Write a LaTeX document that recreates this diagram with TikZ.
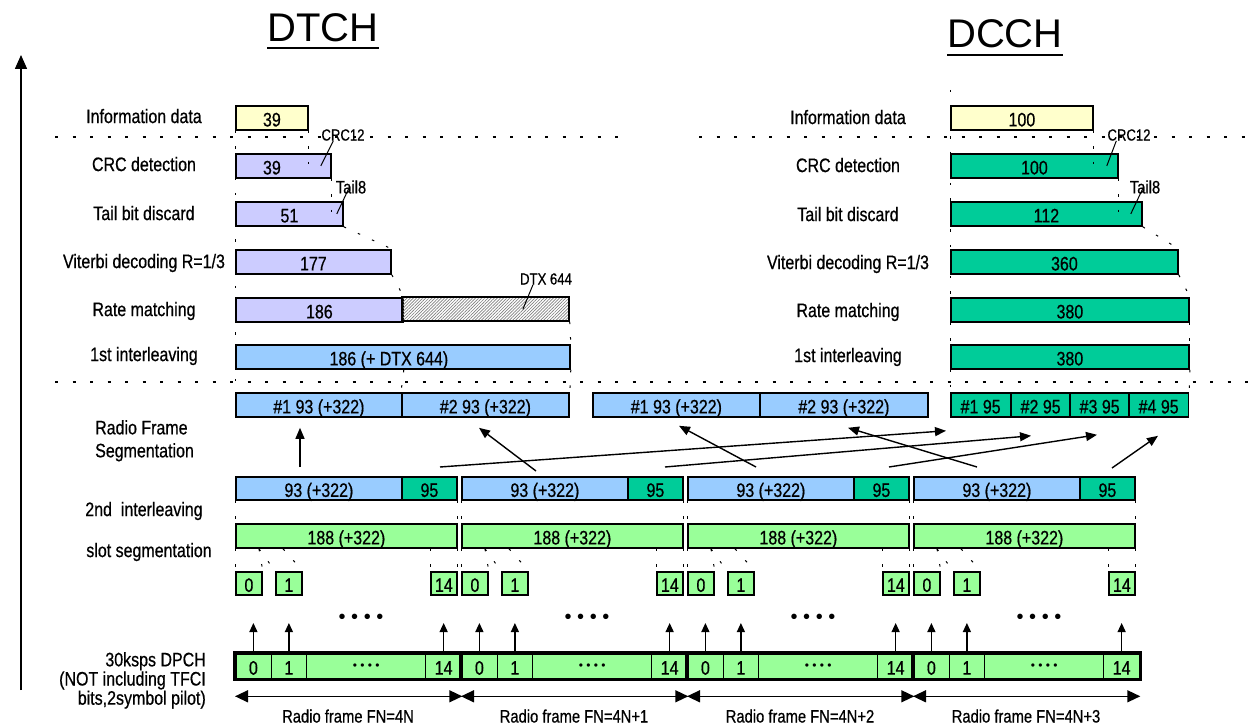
\documentclass[tikz,border=0pt]{standalone}
\usepackage{fontspec}
\newfontfamily\narrowfont{Liberation Sans}[FakeStretch=0.82,FakeBold=0.6]
\newfontfamily\plainfont{Liberation Sans}
\usetikzlibrary{arrows.meta,patterns.meta}

\definecolor{infoyellow}{HTML}{FFFFCC}
\definecolor{dtchlilac}{HTML}{CCCCFF}
\definecolor{segblue}{HTML}{99CCFF}
\definecolor{dcchgreen}{HTML}{00CC99}
\definecolor{slotgreen}{HTML}{99FF99}

\begin{document}
\begin{tikzpicture}[x=1pt,y=-1pt,
		every node/.style={font=\narrowfont\fontsize{19.5}{23}\selectfont},
		box/.style={draw=black, line width=1.8pt, anchor=north west, inner sep=0pt, minimum height=24, text height=17pt, text depth=0pt},
		steplabel/.style={text depth=0pt},
		blocklabel/.style={inner sep=0pt, text depth=0pt},
		smalltag/.style={inner sep=0pt, font=\narrowfont\fontsize{16}{16}\selectfont},
		titletext/.style={inner sep=0pt, anchor=base, font=\plainfont\fontsize{40}{40}\selectfont},
		guide/.style={line width=1pt, dash pattern=on 2.5pt off 13pt},
		sepline/.style={line width=1.6pt, dash pattern=on 3pt off 14.5pt},
		uparrow/.style={line width=1.2pt, -{Triangle[length=9pt,width=8pt]}},
		maparrow/.style={line width=1.4pt, -{Triangle[length=11pt,width=9pt]}},
		framearrow/.style={line width=1.4pt, {Triangle[length=13pt,width=12pt]}-{Triangle[length=13pt,width=12pt]}},
	]
	\useasboundingbox (0,0) rectangle (1250,727);

	%Titles
	\node[titletext] (tdt) at (323,42) {DTCH};
	\node[titletext] (tdc) at (1005,48) {DCCH};
	\draw[line width=2.2pt] ([yshift=-6pt]tdt.base west) -- ([yshift=-6pt]tdt.base east);
	\draw[line width=2.2pt] ([yshift=-7pt]tdc.base west) -- ([yshift=-7pt]tdc.base east);

	%Axis and separators
	\coordinate (axisBot) at (21,690);
	\coordinate (axisTop) at (21,55);
	\draw[line width=1.6pt, -{Triangle[length=14pt,width=12pt]}] (axisBot) -- (axisTop);
	\coordinate (sepAl) at (55,137);
	\coordinate (sepAm) at (628,137);
	\coordinate (sepAn) at (699,137);
	\coordinate (sepAr) at (1250,137);
	\coordinate (sepBl) at (55,382);
	\coordinate (sepBr) at (1250,382);
	\draw[sepline] (sepAl) -- (sepAm);
	\draw[sepline] (sepAn) -- (sepAr);
	\draw[sepline] (sepBl) -- (sepBr);

	%Step labels
	\foreach \y/\txt in {116/Information data, 164/CRC detection, 213/Tail bit discard, 261/{Viterbi decoding R=1/3}, 309/Rate matching, 354/1st interleaving}{
		\node[steplabel] at (144,\y) {\txt};
		\node[steplabel] at (848,\y+1) {\txt};
	}
	\node[blocklabel, anchor=north west, align=left] (lrfs) at (95,420) {Radio Frame\\Segmentation};
	\node[steplabel] (lilv) at (144,509) {2nd \ interleaving};
	\node[steplabel] (lslot) at (149,550) {slot segmentation};
	\node[blocklabel, anchor=north east, align=right, font=\narrowfont\fontsize{19.5}{17.5}\selectfont] (ldpch) at (206,652) {30ksps DPCH\\(NOT including TFCI\\bits,2symbol pilot)};

	%DTCH nodes
	\node[box, fill=infoyellow, minimum width=72] (tInfo) at (235,105) {39};
	\node[box, fill=dtchlilac, minimum width=95] (tCrc) at (235,153) {39\hspace*{23pt}};
	\node[box, fill=dtchlilac, minimum width=107] (tTail) at (235,201) {51};
	\node[box, fill=dtchlilac, minimum width=155] (tVit) at (235,249) {177};
	\node[box, fill=dtchlilac, minimum width=167] (tRate) at (235,297) {186};
	\node[box, fill=white, pattern={Lines[angle=45,distance=2.2pt,line width=0.7pt]}, pattern color=gray, minimum width=167] (tDtx) at (402,297) {};
	\node[box, fill=segblue, minimum width=334] (tInt) at (235,344) {186 (+ DTX 644)\hspace*{28pt}};

	%DCCH nodes
	\node[box, fill=infoyellow, minimum width=142] (cInfo) at (950,105) {100};
	\node[box, fill=dcchgreen, minimum width=167] (cCrc) at (950,153) {100};
	\node[box, fill=dcchgreen, minimum width=191] (cTail) at (950,201) {112};
	\node[box, fill=dcchgreen, minimum width=227] (cVit) at (950,249) {360};
	\node[box, fill=dcchgreen, minimum width=238] (cRate) at (950,297) {380};
	\node[box, fill=dcchgreen, minimum width=238] (cInt) at (950,344) {380};

	%Tags
	\node[smalltag] (tCrcTag) at (343,135) {CRC12};
	\node[smalltag, font=\narrowfont\fontsize{18}{18}\selectfont] (tTailTag) at (351,187) {Tail8};
	\node[smalltag] (tDtxTag) at (546,279) {DTX 644};
	\node[smalltag] (cCrcTag) at (1129,135) {CRC12};
	\node[smalltag, font=\narrowfont\fontsize{18}{18}\selectfont] (cTailTag) at (1145,187) {Tail8};
	\draw[line width=1pt] ([xshift=-11pt]tCrc.east) -- ([xshift=12pt]tCrcTag.south west);
	\draw[line width=1pt] ([xshift=-7pt]tTail.east) -- ([shift={(13,-5)}]tTailTag.south west);
	\draw[line width=1pt] ([xshift=37pt]tDtx.center) -- ([xshift=13pt]tDtxTag.south west);
	\draw[line width=1pt] ([xshift=-12pt]cCrc.east) -- ([xshift=9pt]cCrcTag.south west);
	\draw[line width=1pt] ([xshift=-12pt]cTail.east) -- ([shift={(13,-5)}]cTailTag.south west);

	%Radio frame segmentation
	\node[box, fill=segblue] (rs1a) at (235,392) [minimum width=166] {\#1 93 (+322)};
	\node[box, fill=segblue] (rs1b) at (401,392) [minimum width=167] {\#2 93 (+322)};
	\node[box, fill=segblue] (rs2a) at (592,392) [minimum width=167] {\#1 93 (+322)};
	\node[box, fill=segblue] (rs2b) at (759,392) [minimum width=168] {\#2 93 (+322)};
	\foreach \k/\x in {1/950,2/1010,3/1069,4/1128}
		\node[box, fill=dcchgreen, minimum width=59.5] (rsd\k) at (\x,392) {\#\k{} 95};

	%Upper guides
	\draw[guide] (tInfo.south west) -- (rs1a.north west);
	\draw[guide] (tInfo.south east) -- (tInfo.south east |- tCrc.south);
	\draw[guide] (tCrc.south east) -- (tCrc.south east |- tTail.south);
	\draw[guide] (tTail.south east) -- (tVit.north east);
	\draw[guide] (tVit.south east) -- (tRate.north east);
	\draw[guide] (tDtx.south east) -- (tInt.north east);
	\draw[guide] (tRate.south east |- tInt.south) -- (rs1b.north west);
	\draw[guide] (tInt.south east) -- (rs1b.north east);
	\draw[guide] ([yshift=15pt]cInfo.north west) -- (rsd1.north west);
	\draw[guide] (cInfo.south east) -- (cInfo.south east |- cCrc.south);
	\draw[guide] (cCrc.south east) -- (cCrc.south east |- cTail.south);
	\draw[guide] (cTail.south east) -- (cVit.north east);
	\draw[guide] (cVit.south east) -- (cRate.north east);
	\draw[guide] (cRate.south east) -- (cInt.north east);
	\draw[guide] (cInt.south east) -- (rsd4.north east);

	%Frames
	\foreach \i/\suf in {1/,2/+1,3/+2,4/+3}{
		\pgfmathsetmacro\fx{235+226*(\i-1)}
		% 2nd interleaving and slot segmentation
		\node[box, fill=segblue, minimum width=166, minimum height=23] (ilvB\i) at (\fx,476) {93 (+322)};
		\node[box, fill=dcchgreen, minimum width=55, minimum height=23] (ilvG\i) at (\fx+166,476) {95};
		\node[box, fill=slotgreen, minimum width=221] (seg\i) at (\fx,523) {188 (+322)};
		\node[box, fill=slotgreen, minimum width=26, minimum height=23] (slz\i) at (\fx,571) {0};
		\node[box, fill=slotgreen, minimum width=26, minimum height=23] (slo\i) at (\fx+40,571) {1};
		\node[box, fill=slotgreen, minimum width=26, minimum height=23] (slf\i) at (\fx+195,571) {14};
		\draw[guide] (ilvB\i.south west) -- (seg\i.north west);
		\draw[guide] (ilvG\i.south east) -- (seg\i.north east);
		\draw[guide] (seg\i.south west) -- (slz\i.north west);
		\draw[guide] ([xshift=24pt]seg\i.south west) -- (slz\i.north east);
		\draw[guide] ([xshift=24pt]seg\i.south west) -- (slo\i.north west);
		\draw[guide] ([xshift=48pt]seg\i.south west) -- (slo\i.north east);
		\draw[guide] (slf\i.north west |- seg\i.south) -- (slf\i.north west);
		\draw[guide] (seg\i.south east) -- (slf\i.north east);
		\node[font=\plainfont\fontsize{20}{20}\selectfont, anchor=base] (dots\i) at (\fx+126,623) {• • • •};
		% DPCH
		\node[box, fill=slotgreen, minimum width=35.5, minimum height=25, line width=1.3pt] (dz\i) at (\fx,653) {0};
		\node[box, fill=slotgreen, minimum width=35.5, minimum height=25, line width=1.3pt] (do\i) at (\fx+35.5,653) {1};
		\node[box, fill=slotgreen, minimum width=119, minimum height=25, line width=1.3pt, text height=6pt, font=\plainfont\fontsize{12}{12}\selectfont] (dd\i) at (\fx+71,653) {• • • •};
		\node[box, fill=slotgreen, minimum width=36, minimum height=25, line width=1.3pt] (df\i) at (\fx+190,653) {14};
		\draw[uparrow] (dz\i.north) -- ++(0,-30);
		\draw[uparrow] (do\i.north) -- ++(0,-30);
		\draw[uparrow] (df\i.north) -- ++(0,-30);
		\draw[framearrow] ([yshift=-17pt]dz\i.south west) -- ([yshift=-17pt]df\i.south east);
		\node[steplabel, font=\narrowfont\fontsize{18}{18}\selectfont] (rf\i) at (\fx+113,716) {Radio frame FN=4N\suf};
	}
	\draw[line width=3.2pt] (dz1.north west) rectangle (df4.south east);
	\foreach \i in {2,3,4}
		\draw[line width=3.2pt] (dz\i.north west) -- (dz\i.south west);

	%Segment arrows
	\foreach \a/\ax/\ay/\b/\bx/\by in {ilvB1/65/-9/rs1a/65/10, ilvB2/75/-5/rs1b/78/10, ilvG1/39/-9/rsd1/-4/13, ilvB3/69/-9/rs2a/87/8, ilvG2/38/-9/rsd2/21/18, ilvB4/64/-9/rs2b/89/10, ilvG3/36/-9/rsd3/28/17, ilvG4/33/-8/rsd4/30/18}
		\draw[maparrow] ([shift={(\ax,\ay)}]\a.north west) -- ([shift={(\bx,\by)}]\b.south west);

\end{tikzpicture}
\end{document}
